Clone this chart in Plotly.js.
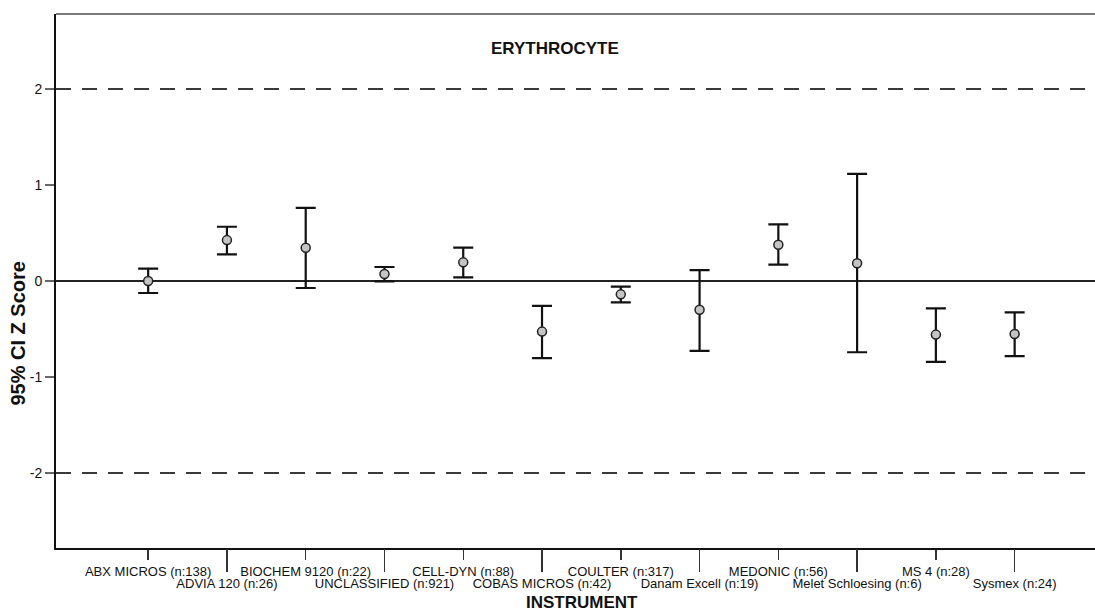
<!DOCTYPE html>
<html>
<head>
<meta charset="utf-8">
<script src="https://cdn.plot.ly/plotly-3.0.1.min.js"></script>
<style>html,body{margin:0;padding:0;background:#fff;}#chart{width:1095px;height:613px;}</style>
</head>
<body>
<div id="chart"></div>
<script>
// ---- data ----
const instruments = [
  "ABX MICROS (n:138)", "ADVIA 120 (n:26)", "BIOCHEM 9120 (n:22)", "UNCLASSIFIED (n:921)",
  "CELL-DYN (n:88)", "COBAS MICROS (n:42)", "COULTER (n:317)", "Danam Excell (n:19)",
  "MEDONIC (n:56)", "Melet Schloesing (n:6)", "MS 4 (n:28)", "Sysmex (n:24)"
];
const meanZ  = [0.00, 0.426, 0.347, 0.073, 0.194, -0.527, -0.139, -0.300, 0.378, 0.184, -0.558, -0.551];
const upperZ = [0.128, 0.565, 0.762, 0.146, 0.347, -0.260, -0.059, 0.114, 0.589, 1.115, -0.284, -0.326];
const lowerZ = [-0.125, 0.277, -0.073, -0.003, 0.038, -0.804, -0.222, -0.728, 0.170, -0.742, -0.842, -0.783];
const refLines = [2, -2];
const yTicks = [-2, -1, 0, 1, 2];
const yTickText = ["-2", "-1", "0", "1", "2"];
const chartTitle = "ERYTHROCYTE";
const xTitle = "INSTRUMENT";
const yTitle = "95% CI Z Score";

// ---- build ----
const idx = instruments.map((_, i) => i);
const evenIdx = idx.filter(i => i % 2 === 0);
const oddIdx = idx.filter(i => i % 2 === 1);
const xRange = [-1.17, 12.02];
const yRange = [-2.78, 2.78];
const fontFam = "'Liberation Sans', Arial, sans-serif";

const traces = [
  {
    type: 'scatter', mode: 'markers', x: idx, y: meanZ,
    marker: {symbol: 'circle', size: 9, color: '#c4c4c4', line: {color: '#222', width: 1.5}},
    error_y: {
      type: 'data', symmetric: false,
      array: upperZ.map((u, i) => u - meanZ[i]),
      arrayminus: lowerZ.map((l, i) => meanZ[i] - l),
      color: '#111', thickness: 2.2, width: 10
    },
    hoverinfo: 'skip', showlegend: false
  },
  {
    type: 'scatter', mode: 'markers', x: oddIdx, y: oddIdx.map(() => null),
    xaxis: 'x2', yaxis: 'y', hoverinfo: 'skip', showlegend: false
  }
];

const shapes = refLines.map(v => ({
  type: 'line', xref: 'paper', x0: 0, x1: 1, yref: 'y', y0: v, y1: v,
  line: {color: '#3a3a3a', width: 2, dash: '15px,11px'}, layer: 'below'
}));
shapes.push({type: 'line', xref: 'paper', x0: 0, x1: 1, yref: 'paper', y0: 1, y1: 1,
  line: {color: '#7a7a7a', width: 2}});

const layout = {
  width: 1095, height: 613,
  margin: {l: 56, r: 0, t: 14, b: 65},
  paper_bgcolor: '#fff', plot_bgcolor: '#fff',
  font: {family: fontFam, color: '#111'},
  showlegend: false,
  xaxis: {
    range: xRange, showgrid: false, zeroline: false,
    showline: true, linecolor: '#111', linewidth: 2,
    tickmode: 'array', tickvals: evenIdx, ticktext: evenIdx.map(i => instruments[i]),
    ticks: 'outside', ticklen: 10, tickwidth: 1.5, tickcolor: '#333',
    tickangle: 0, tickfont: {size: 13, family: fontFam, color: '#111'}
  },
  xaxis2: {
    overlaying: 'x', anchor: 'y', side: 'bottom', matches: 'x',
    range: xRange, showgrid: false, zeroline: false, showline: false,
    tickmode: 'array', tickvals: oddIdx, ticktext: oddIdx.map(i => instruments[i]),
    ticks: 'outside', ticklen: 23, tickwidth: 1.5, tickcolor: '#333',
    tickangle: 0, tickfont: {size: 13, family: fontFam, color: '#111'}
  },
  yaxis: {
    range: yRange, showgrid: false,
    zeroline: true, zerolinecolor: '#222', zerolinewidth: 1.2,
    showline: true, linecolor: '#111', linewidth: 2,
    tickmode: 'array', tickvals: yTicks, ticktext: yTickText,
    ticks: 'outside', ticklen: 9, tickwidth: 1.5, tickcolor: '#666',
    tickfont: {size: 14, family: fontFam, color: '#111'}
  },
  shapes: shapes,
  annotations: [
    {text: '<b>' + chartTitle + '</b>', xref: 'paper', yref: 'paper', x: 0.4803, y: 0.936,
     xanchor: 'center', yanchor: 'middle', showarrow: false, font: {size: 17, family: fontFam, color: '#111'}},
    {text: '<b>' + xTitle + '</b>', xref: 'paper', yref: 'paper', x: 0.506, y: -0.1217,
     xanchor: 'center', yanchor: 'bottom', borderpad: 0, showarrow: false, font: {size: 17, family: fontFam, color: '#111'}},
    {text: '<b>' + yTitle + '</b>', xref: 'paper', yref: 'paper', x: -0.037, y: 0.4026,
     xanchor: 'center', yanchor: 'middle', textangle: -90, showarrow: false, font: {size: 20, family: fontFam, color: '#111'}}
  ]
};

Plotly.newPlot('chart', traces, layout, {displayModeBar: false, staticPlot: true});
</script>
</body>
</html>
